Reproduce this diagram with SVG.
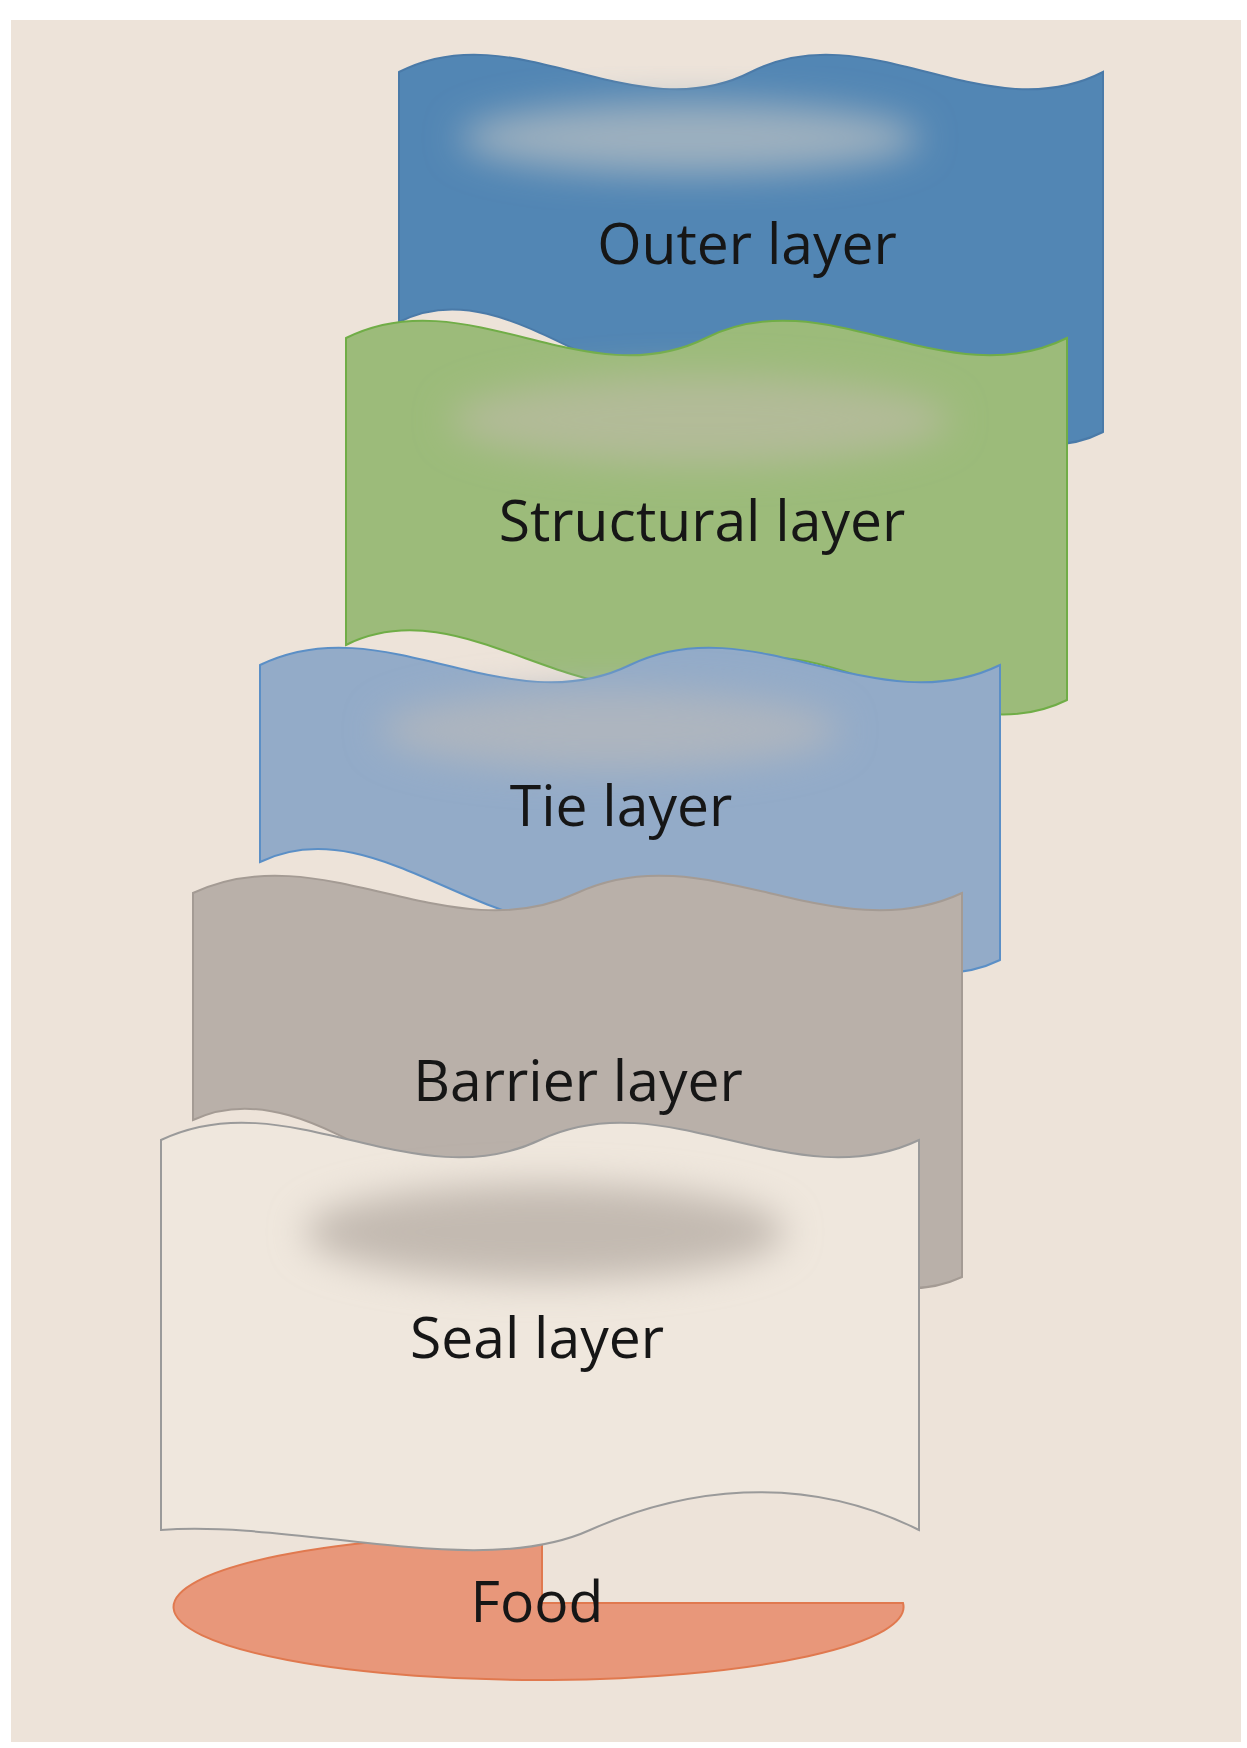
<svg xmlns="http://www.w3.org/2000/svg" width="1247" height="1748" viewBox="0 0 1247 1748">
<defs>
<filter id="blur" x="-50%" y="-50%" width="200%" height="200%"><feGaussianBlur stdDeviation="18"/></filter>
<style>
.lbl{font-family:"Open Sans","Liberation Sans",sans-serif;font-size:57px;font-weight:500;fill:#161616;text-anchor:middle}
</style>
</defs>
<rect width="1247" height="1748" fill="#ffffff"/>
<rect x="11" y="20" width="1230" height="1722" fill="#ede3d9"/>
<g id="outer">
<path d="M399,72 C516,12 634,132 751,72 C868,12 986,132 1103,72 L1103,432 C986,492 868,317 751,377 C634,437 516,262 399,322 Z" fill="#5286b4" stroke="#4a7aa8" stroke-width="2"/>
<ellipse cx="690" cy="138" rx="230" ry="36" fill="#9db0bf" filter="url(#blur)"/>
<text class="lbl" x="747" y="264">Outer layer</text>
</g>
<g id="structural">
<path d="M346,338 C466,278 586,398 706,338 C826,278 946,398 1067,338 L1067,700 C946,760 826,612 706,672 C586,732 466,585 346,645 Z" fill="#9cbb7a" stroke="#70ad47" stroke-width="2"/>
<ellipse cx="700" cy="420" rx="250" ry="45" fill="#b2bb98" filter="url(#blur)"/>
<text class="lbl" x="702" y="541">Structural layer</text>
</g>
<g id="tie">
<path d="M260,665 C383,605 507,725 630,665 C753,605 877,725 1000,665 L1000,960 C877,1020 753,851 630,911 C507,971 383,802 260,862 Z" fill="#93abc8" stroke="#5b8fc6" stroke-width="2"/>
<ellipse cx="610" cy="730" rx="230" ry="40" fill="#adb5bf" filter="url(#blur)"/>
<text class="lbl" x="621" y="826">Tie layer</text>
</g>
<g id="barrier">
<path d="M193,893 C321,833 449,953 577,893 C705,833 833,953 962,893 L962,1277 C833,1337 705,1138 577,1198 C449,1258 321,1060 193,1120 Z" fill="#b9b0a9" stroke="#a49b94" stroke-width="2"/>
<text class="lbl" x="578" y="1101">Barrier layer</text>
</g>
<g id="food">
<path d="M542,1534 L542,1603 L903,1603 A365,73 0 1 1 539,1534 Z" fill="#e8977a" stroke="#e0794f" stroke-width="2"/>
</g>
<g id="seal">
<path d="M161,1140 C287,1080 414,1200 540,1140 C666,1080 793,1200 919,1140 L919,1530 C800,1470 680,1490 590,1530 C480,1580 300,1520 161,1530 Z" fill="#efe7dd" stroke="#9a9a9a" stroke-width="2"/>
<ellipse cx="545" cy="1232" rx="240" ry="48" fill="#c3bab1" filter="url(#blur)"/>
<text class="lbl" x="537" y="1358">Seal layer</text>
</g>
<text class="lbl" x="537" y="1622">Food</text>
</svg>
